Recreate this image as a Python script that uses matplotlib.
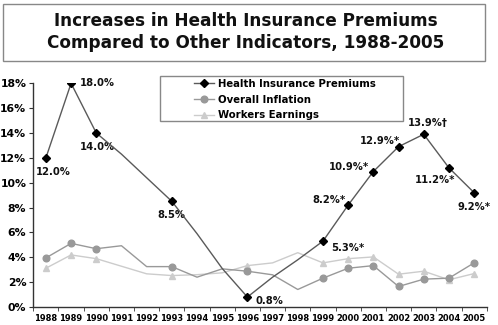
import matplotlib
matplotlib.use("Agg")
import matplotlib.pyplot as plt
from matplotlib.patches import Rectangle
from matplotlib.lines import Line2D
import numpy as np

years = ["1988", "1989", "1990", "1991", "1992", "1993", "1994", "1995", "1996",
         "1997", "1998", "1999", "2000", "2001", "2002", "2003", "2004", "2005"]
health = [12.0, 18.0, 14.0, 12.3, 10.4, 8.5, 5.9, 3.1, 0.8,
          2.4, 3.8, 5.3, 8.2, 10.9, 12.9, 13.9, 11.2, 9.2]
inflation = [3.95, 5.12, 4.69, 4.93, 3.25, 3.25, 2.4, 3.07, 2.88,
             2.59, 1.41, 2.32, 3.12, 3.33, 1.65, 2.24, 2.32, 3.55]
earnings = [3.12, 4.19, 3.89, 3.28, 2.67, 2.53, 2.6, 2.75, 3.33,
            3.55, 4.37, 3.55, 3.89, 4.03, 2.64, 2.88, 2.19, 2.69]
marker_years = ["1988", "1989", "1990", "1993", "1996", "1999", "2000",
                "2001", "2002", "2003", "2004", "2005"]
health_labels = {"1988": "12.0%", "1989": "18.0%", "1990": "14.0%", "1993": "8.5%",
                 "1996": "0.8%", "1999": "5.3%*", "2000": "8.2%*", "2001": "10.9%*",
                 "2002": "12.9%*", "2003": "13.9%\u2020", "2004": "11.2%*", "2005": "9.2%*"}
yticks = [0, 2, 4, 6, 8, 10, 12, 14, 16, 18]
series_names = ["Health Insurance Premiums", "Overall Inflation", "Workers Earnings"]
title = "Increases in Health Insurance Premiums\nCompared to Other Indicators, 1988-2005"

plt.rcParams['font.family'] = ['DejaVu Sans']
plt.rcParams['font.weight'] = 'bold'

fig = plt.figure(figsize=(4.98, 3.25), dpi=100)
W, H = 498, 325
ax = fig.add_axes([33.3 / W, 1 - 307 / H, (486.7 - 33.3) / W, (307 - 83.3) / H])

x = np.arange(len(years))
midx = [years.index(y) for y in marker_years]

c_h_line, c_h_mark = "#5a5a5a", "#000000"
c_inf = "#999999"
c_earn = "#cccccc"
ms_c, ms_t, ms_d = 4.8, 5.0, 3.8

ax.plot(x, earnings, color=c_earn, lw=1.0, zorder=2)
ax.plot(midx, [earnings[i] for i in midx], ls='none', marker='^', ms=ms_t,
        color=c_earn, zorder=3)
ax.plot(x, inflation, color=c_inf, lw=1.0, zorder=2)
ax.plot(midx, [inflation[i] for i in midx], ls='none', marker='o', ms=ms_c,
        color=c_inf, zorder=3)
ax.plot(x, health, color=c_h_line, lw=1.0, zorder=4)
ax.plot(midx, [health[i] for i in midx], ls='none', marker='D', ms=ms_d,
        color=c_h_mark, zorder=5)

handles = [
    Line2D([], [], color=c_h_line, lw=1.0, marker='D', ms=ms_d, mfc=c_h_mark, mec=c_h_mark),
    Line2D([], [], color=c_inf, lw=1.0, marker='o', ms=ms_c, mfc=c_inf, mec=c_inf),
    Line2D([], [], color=c_earn, lw=1.0, marker='^', ms=ms_t, mfc=c_earn, mec=c_earn),
]
leg = fig.legend(handles, series_names, loc='upper left',
                 bbox_to_anchor=(194 / W, 1 - 79 / H), frameon=False,
                 prop={'size': 7.3, 'weight': 'bold'},
                 handlelength=2.0, handletextpad=0.4, labelspacing=0.55,
                 borderpad=0.0, borderaxespad=0)
fig.patches.append(Rectangle((160 / W, 1 - 121 / H), (403 - 160) / W, (121 - 76) / H,
                             transform=fig.transFigure, fill=False,
                             edgecolor='#888888', lw=1.0))

offsets = {
    "1988": (5, -10, 'center', 'center'),
    "1989": (6, 0, 'left', 'center'),
    "1990": (1, -10, 'center', 'center'),
    "1993": (0, -10, 'center', 'center'),
    "1996": (6, -3, 'left', 'center'),
    "1999": (6, -5, 'left', 'center'),
    "2000": (-2, 4, 'right', 'center'),
    "2001": (-3, 3, 'right', 'center'),
    "2002": (1, 4, 'right', 'center'),
    "2003": (3, 8, 'center', 'center'),
    "2004": (-10, -9, 'center', 'center'),
    "2005": (0, -10, 'center', 'center'),
}
for yr, lab in health_labels.items():
    i = years.index(yr)
    dx, dy, ha, va = offsets[yr]
    ax.annotate(lab, (x[i], health[i]), xytext=(dx, dy), textcoords='offset points',
                ha=ha, va=va, fontsize=7.2, fontweight='bold', color='#111111')

ax.set_xlim(-0.5, len(years) - 0.5)
ax.set_ylim(0, 18)
ax.set_yticks(yticks)
ax.set_yticklabels([f"{v}%" for v in yticks], fontsize=7.8, fontweight='bold')
ax.set_xticks(x)
ax.set_xticklabels(years, fontsize=6, fontweight='bold')
ax.set_xticks(np.arange(-0.5, len(years), 1), minor=True)
ax.tick_params(axis='x', which='major', length=0, pad=5)
ax.tick_params(axis='x', which='minor', length=3, color='#333333')
ax.tick_params(axis='y', length=3, color='#333333', pad=2)
for s in ['top', 'right']:
    ax.spines[s].set_visible(False)
for s in ['left', 'bottom']:
    ax.spines[s].set_color('#333333')
    ax.spines[s].set_linewidth(1.0)

fig.patches.append(Rectangle((3 / W, 1 - 61 / H), (485 - 3) / W, (61 - 4) / H,
                             transform=fig.transFigure, fill=False,
                             edgecolor='#888888', lw=1.0))
fig.text(246 / W, 1 - 32 / H, title, ha='center', va='center', fontsize=12.2,
         fontweight='bold', linespacing=1.3, color='#111111')

fig.savefig("out.png", dpi=100)
